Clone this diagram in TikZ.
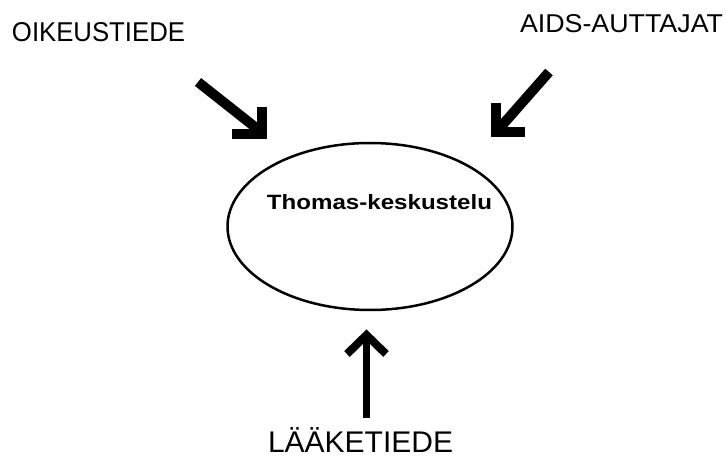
\documentclass[tikz,border=0pt]{standalone}
\usepackage{fontspec}
\usepackage{graphicx}
\usetikzlibrary{shapes.geometric}
\setmainfont{Liberation Sans}
\begin{document}
\begin{tikzpicture}[x=1pt,y=-1pt,
  lbl/.style={font=\fontsize{25}{28}\selectfont, inner sep=0pt},
  fat/.style={line width=10pt, line cap=butt},
  head/.style={line width=10pt, line join=miter, line cap=butt}]
\useasboundingbox (0,0) rectangle (726,457);
\node[lbl] (oik) at (98.5,32.5) {\resizebox{173pt}{19pt}{OIKEUSTIEDE}};
\node[lbl] (aids) at (621.5,24) {\resizebox{203pt}{18pt}{AIDS-AUTTAJAT}};
\node[lbl] (laa) at (360.5,439.5) {\resizebox{185pt}{25pt}{LÄÄKETIEDE}};
\node[draw, ellipse, line width=2.5pt, minimum width=285pt, minimum height=167pt, inner sep=0pt] (th) at (370,226.5) {};
\node[font=\bfseries\fontsize{20}{24}\selectfont, inner sep=0pt] (tt) at (379.5,202) {\resizebox{225pt}{15pt}{Thomas-keskustelu}};
% left arrow
\coordinate (a1s) at (198,82);
\coordinate (a1t) at (260,131);
\draw[fat] (a1s) -- (a1t);
\draw[head] (232,134) -- (262,134) -- (262,107);
% right arrow
\coordinate (a2s) at (549,72);
\coordinate (a2t) at (498,130);
\draw[fat] (a2s) -- (a2t);
\draw[head] (496,103) -- (496,132) -- (525,132);
% up arrow
\coordinate (a3s) at (366.5,418);
\coordinate (a3t) at (366.5,338);
\draw[line width=7pt] (a3s) -- (a3t);
\draw[head, line width=8pt] (347,354) -- (366.5,335) -- (386,354);
\end{tikzpicture}
\end{document}
